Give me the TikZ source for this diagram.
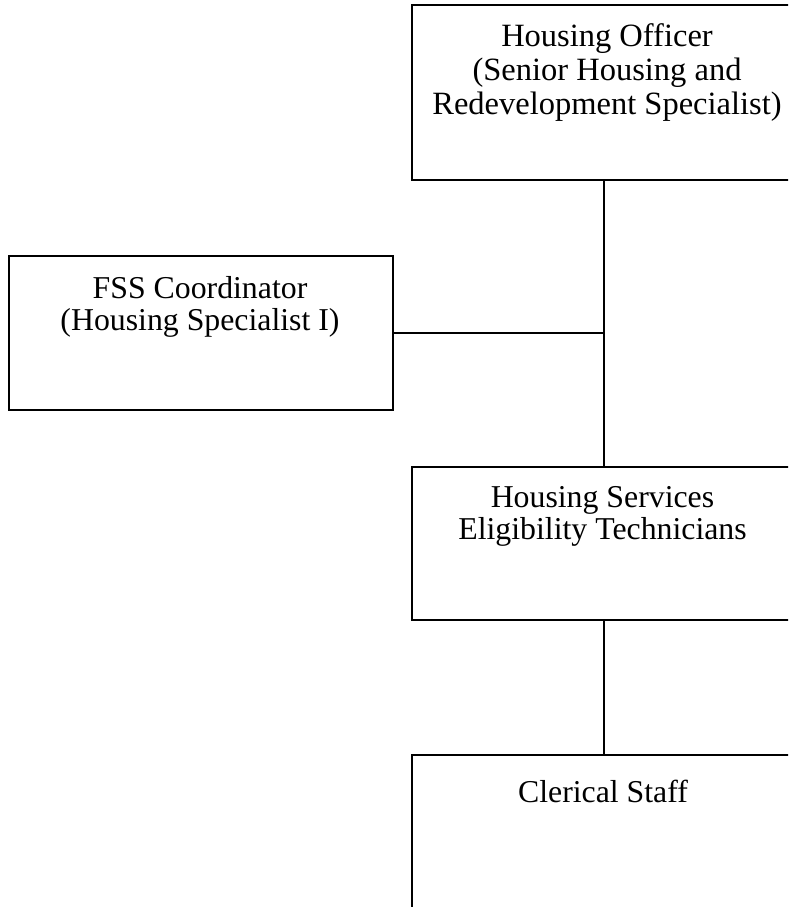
\documentclass[tikz,border=0pt]{standalone}
\usepackage{fontspec}
\setmainfont{Liberation Serif}
\begin{document}
\begin{tikzpicture}[x=1pt,y=-1pt,
  orgbox/.style={draw, line width=1.5pt, rectangle, anchor=north west, inner sep=0pt, outer sep=0pt},
  orgtext/.style={anchor=north, align=center, inner sep=0pt, font=\fontsize{31.8}{32.5}\selectfont},
  conn/.style={line width=1.5pt}]
\useasboundingbox (0,0) rectangle (788,907);
\clip (0,0) rectangle (788,907);
\node[orgbox, minimum width=390pt, minimum height=175pt] (ho) at (412,5) {};
\node[orgbox, minimum width=384pt, minimum height=154pt] (fss) at (9,256) {};
\node[orgbox, minimum width=390pt, minimum height=153pt] (hs) at (412,467) {};
\node[orgbox, minimum width=390pt, minimum height=170pt] (cs) at (412,755) {};
\node[orgtext, font=\fontsize{32.5}{34}\selectfont] (hot) at (607,23) {Housing Officer\\(Senior Housing and\\Redevelopment Specialist)};
\node[orgtext] (fsst) at (200,276) {FSS Coordinator\\(Housing Specialist I)};
\node[orgtext] (hst) at (602.5,486) {Housing Services\\Eligibility Technicians};
\node[orgtext] (cst) at (603,780) {Clerical Staff};
\coordinate (spine) at (604,0);
\draw[conn] (ho.south -| spine) -- (hs.north -| spine);
\draw[conn] (fss.east) -- (fss.east -| spine);
\draw[conn] (hs.south -| spine) -- (cs.north -| spine);
\end{tikzpicture}
\end{document}
